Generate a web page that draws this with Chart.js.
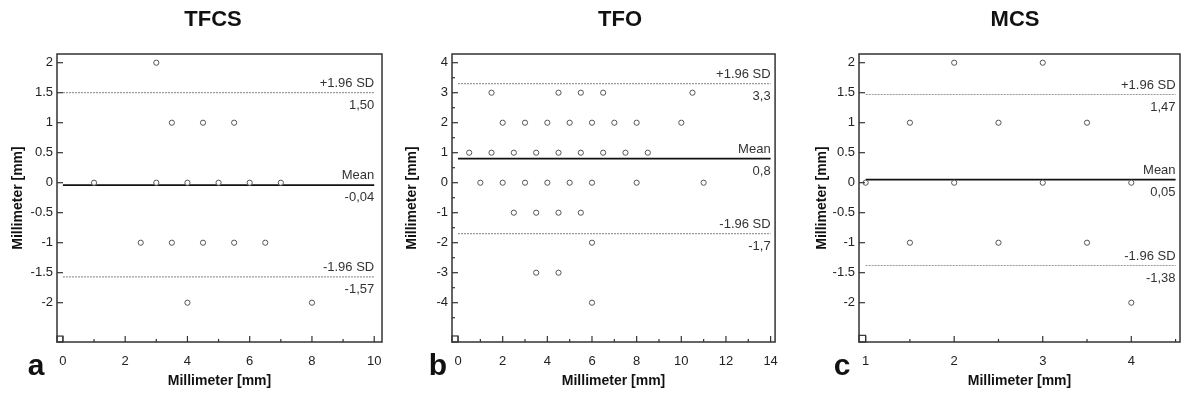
<!DOCTYPE html>
<html>
<head>
<meta charset="utf-8">
<script src="https://cdn.jsdelivr.net/npm/chart.js@4.4.1/dist/chart.umd.min.js"></script>
<style>
html, body { margin: 0; padding: 0; background: #fff; }
#wrap { position: relative; width: 1185px; height: 396px; }
#wrap canvas { position: absolute; top: 0; }
</style>
</head>
<body>
<div id="wrap">
  <canvas id="chartA" width="395" height="396" style="left:0px"></canvas>
  <canvas id="chartB" width="395" height="396" style="left:395px"></canvas>
  <canvas id="chartC" width="395" height="396" style="left:790px"></canvas>
</div>
<script>
// --- DADOS ---
const limitNames = ['+1.96 SD', 'Mean', '-1.96 SD'];

// a) TFCS
const tfcsMean = [3, 3.5, 4.5, 5.5, 1, 3, 4, 5, 6, 7, 2.5, 3.5, 4.5, 5.5, 6.5, 4, 8];
const tfcsDiff = [2, 1, 1, 1, 0, 0, 0, 0, 0, 0, -1, -1, -1, -1, -1, -2, -2];
const tfcsLimits = [1.50, -0.04, -1.57];
const tfcsLimitText = ['1,50', '-0,04', '-1,57'];
const tfcsLineSpan = [0, 10];
const tfcsXTicks = [0, 2, 4, 6, 8, 10];
const tfcsXMinor = [1, 3, 5, 7, 9];
const tfcsYTicks = [-2, -1.5, -1, -0.5, 0, 0.5, 1, 1.5, 2];

// b) TFO
const tfoMean = [1.5, 4.5, 5.5, 6.5, 10.5,
                 2, 3, 4, 5, 6, 7, 8, 10,
                 0.5, 1.5, 2.5, 3.5, 4.5, 5.5, 6.5, 7.5, 8.5,
                 1, 2, 3, 4, 5, 6, 8, 11,
                 2.5, 3.5, 4.5, 5.5,
                 6, 3.5, 4.5, 6];
const tfoDiff = [3, 3, 3, 3, 3,
                 2, 2, 2, 2, 2, 2, 2, 2,
                 1, 1, 1, 1, 1, 1, 1, 1, 1,
                 0, 0, 0, 0, 0, 0, 0, 0,
                 -1, -1, -1, -1,
                 -2, -3, -3, -4];
const tfoLimits = [3.3, 0.8, -1.7];
const tfoLimitText = ['3,3', '0,8', '-1,7'];
const tfoLineSpan = [0, 14];
const tfoXTicks = [0, 2, 4, 6, 8, 10, 12, 14];
const tfoXMinor = [1, 3, 5, 7, 9, 11, 13];
const tfoYTicks = [-4, -3, -2, -1, 0, 1, 2, 3, 4];
const tfoYMinor = [-4.5, -3.5, -2.5, -1.5, -0.5, 0.5, 1.5, 2.5, 3.5];

// c) MCS
const mcsMean = [2, 3, 1.5, 2.5, 3.5, 1, 2, 3, 4, 1.5, 2.5, 3.5, 4];
const mcsDiff = [2, 2, 1, 1, 1, 0, 0, 0, 0, -1, -1, -1, -2];
const mcsLimits = [1.47, 0.05, -1.38];
const mcsLimitText = ['1,47', '0,05', '-1,38'];
const mcsLineSpan = [1, 4.5];
const mcsXTicks = [1, 2, 3, 4];
const mcsXMinor = [1.5, 2.5, 3.5, 4.5];
const mcsYTicks = [-2, -1.5, -1, -0.5, 0, 0.5, 1, 1.5, 2];

const FONT = '"Liberation Sans", Arial, sans-serif';
Chart.defaults.font.family = FONT;
Chart.defaults.color = '#222';

// --- plugin: moldura, ticks para dentro, rótulos das linhas, título e letra ---
const baPanel = {
    id: 'baPanel',
    afterDraw(chart, args, o) {
        const { ctx, chartArea: a, scales: { x, y } } = chart;
        ctx.save();
        ctx.strokeStyle = '#333';
        ctx.lineWidth = 1.5;
        ctx.strokeRect(a.left, a.top, a.width, a.height);

        ctx.lineWidth = 1.2;
        const seg = (x1, y1, x2, y2) => { ctx.beginPath(); ctx.moveTo(x1, y1); ctx.lineTo(x2, y2); ctx.stroke(); };
        x.ticks.forEach(t => { const px = x.getPixelForValue(t.value); seg(px, a.bottom, px, a.bottom - 6); });
        (o.xMinor || []).forEach(v => { const px = x.getPixelForValue(v); seg(px, a.bottom, px, a.bottom - 3); });
        y.ticks.forEach(t => { const py = y.getPixelForValue(t.value); seg(a.left, py, a.left + 6, py); });
        (o.yMinor || []).forEach(v => { const py = y.getPixelForValue(v); seg(a.left, py, a.left + 3, py); });

        // quadradinho no canto
        const s = x.getPixelForValue(x.ticks[0].value) - a.left;
        ctx.strokeRect(a.left, a.bottom - s, s, s);

        // rótulos das linhas
        ctx.font = '13px ' + FONT;
        ctx.fillStyle = '#333';
        ctx.textAlign = 'right';
        const xr = x.getPixelForValue(o.lineTo);
        limitNames.forEach((name, i) => {
            const py = y.getPixelForValue(o.limits[i]);
            ctx.textBaseline = 'bottom';
            ctx.fillText(name, xr, py - 3);
            ctx.textBaseline = 'top';
            ctx.fillText(o.limitText[i], xr, py + 6);
        });

        // título e letra
        ctx.fillStyle = '#111';
        ctx.textAlign = 'center';
        ctx.textBaseline = 'middle';
        ctx.font = 'bold 22px ' + FONT;
        ctx.fillText(o.title, o.titleX, 20);
        ctx.font = 'bold 30px ' + FONT;
        ctx.textBaseline = 'alphabetic';
        ctx.fillText(o.letter, o.letterX, 375);
        ctx.restore();
    }
};

function makePanel(id, p) {
    const [lineFrom, lineTo] = p.lineSpan;
    const lineSets = p.limits.map((v, i) => ({
        data: [{ x: lineFrom, y: v }, { x: lineTo, y: v }],
        showLine: true,
        pointRadius: 0,
        borderColor: i === 1 ? '#111' : '#9a9a9a',
        borderWidth: i === 1 ? 1.8 : 1.2,
        borderDash: i === 1 ? [] : [2, 1],
        order: 1
    }));
    const points = p.mean.map((m, i) => ({ x: m, y: p.diff[i] }));

    return new Chart(document.getElementById(id), {
        type: 'scatter',
        data: {
            datasets: [{
                data: points,
                pointRadius: 2.6,
                pointBorderWidth: 1,
                borderColor: '#555',
                backgroundColor: '#fff',
                order: 0
            }, ...lineSets]
        },
        options: {
            responsive: false,
            animation: false,
            events: [],
            layout: { padding: { left: 0, top: 54, right: 395 - p.frameRight, bottom: 0 } },
            plugins: {
                legend: { display: false },
                tooltip: { enabled: false },
                baPanel: {
                    title: p.title, titleX: p.titleX, letter: p.letter, letterX: p.letterX,
                    xMinor: p.xMinor, yMinor: p.yMinor,
                    limits: p.limits, limitText: p.limitText, lineTo: lineTo
                }
            },
            scales: {
                x: {
                    type: 'linear',
                    min: p.xRange[0], max: p.xRange[1],
                    afterBuildTicks: s => { s.ticks = p.xTicks.map(v => ({ value: v })); },
                    afterFit: s => { s.height = 396 - 342; },
                    grid: { display: false, drawTicks: false },
                    border: { display: false },
                    ticks: { padding: 12, font: { size: 13 }, maxRotation: 0, autoSkip: false, callback: v => String(v) },
                    title: { display: true, text: 'Millimeter [mm]', color: '#111', font: { size: 14, weight: 'bold' }, padding: { top: 0, bottom: 6 } }
                },
                y: {
                    type: 'linear',
                    min: p.yRange[0], max: p.yRange[1],
                    afterBuildTicks: s => { s.ticks = p.yTicks.map(v => ({ value: v })); },
                    afterFit: s => { s.width = p.frameLeft; },
                    grid: { display: false, drawTicks: false },
                    border: { display: false },
                    ticks: { padding: 4, font: { size: 13 }, autoSkip: false, callback: v => String(v) },
                    title: { display: true, text: 'Millimeter [mm]', color: '#111', font: { size: 14, weight: 'bold' }, padding: { top: p.yTitlePad, bottom: 0 } }
                }
            }
        },
        plugins: [baPanel]
    });
}

makePanel('chartA', {
    title: 'TFCS', titleX: 213, letter: 'a', letterX: 36,
    mean: tfcsMean, diff: tfcsDiff, limits: tfcsLimits, limitText: tfcsLimitText, lineSpan: tfcsLineSpan,
    xTicks: tfcsXTicks, xMinor: tfcsXMinor, yTicks: tfcsYTicks, yMinor: [],
    xRange: [-0.19, 10.25], yRange: [-2.655, 2.145],
    frameLeft: 57, frameRight: 382, yTitlePad: 10
});
makePanel('chartB', {
    title: 'TFO', titleX: 225, letter: 'b', letterX: 43,
    mean: tfoMean, diff: tfoDiff, limits: tfoLimits, limitText: tfoLimitText, lineSpan: tfoLineSpan,
    xTicks: tfoXTicks, xMinor: tfoXMinor, yTicks: tfoYTicks, yMinor: tfoYMinor,
    xRange: [-0.27, 14.2], yRange: [-5.31, 4.29],
    frameLeft: 57, frameRight: 384, yTitlePad: 9
});
makePanel('chartC', {
    title: 'MCS', titleX: 225, letter: 'c', letterX: 52,
    mean: mcsMean, diff: mcsDiff, limits: mcsLimits, limitText: mcsLimitText, lineSpan: mcsLineSpan,
    xTicks: mcsXTicks, xMinor: mcsXMinor, yTicks: mcsYTicks, yMinor: [],
    xRange: [0.925, 4.55], yRange: [-2.655, 2.145],
    frameLeft: 69, frameRight: 392, yTitlePad: 24
});
</script>
</body>
</html>
